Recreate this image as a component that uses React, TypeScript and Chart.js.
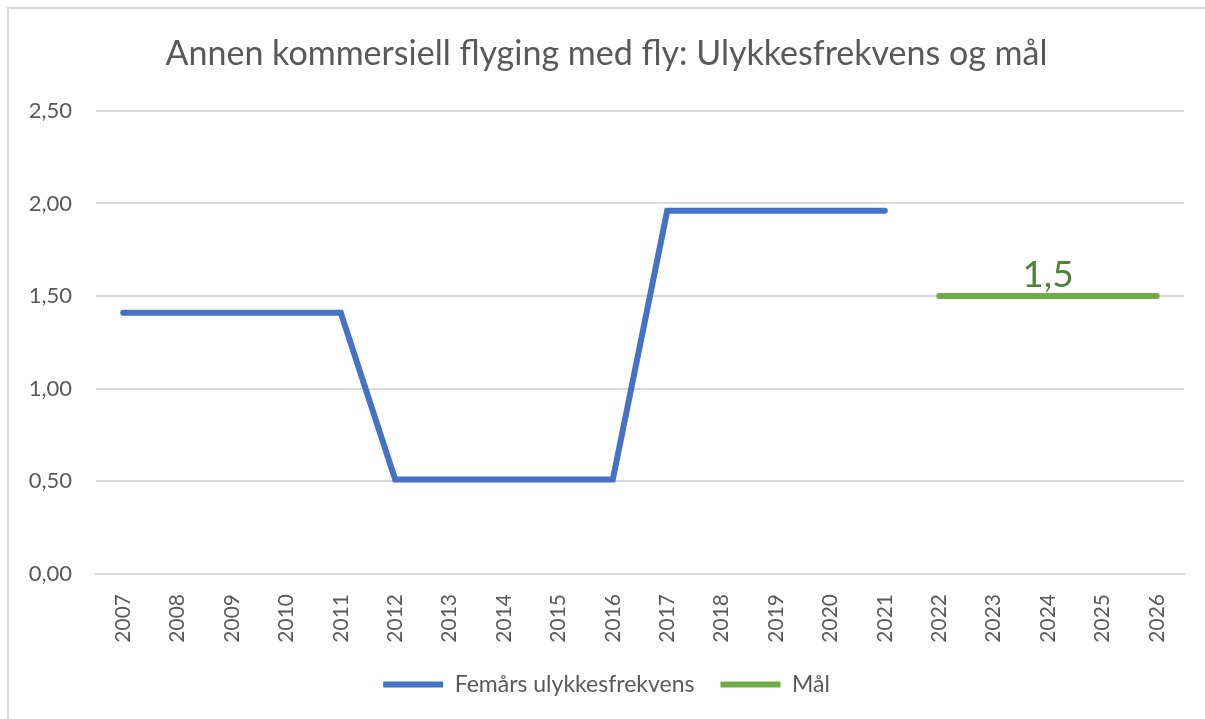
import React, { useEffect, useRef } from "react";
import { Chart, registerables } from "chart.js";

Chart.register(...registerables);

const years = ["2007","2008","2009","2010","2011","2012","2013","2014","2015","2016","2017","2018","2019","2020","2021","2022","2023","2024","2025","2026"];
const frequency = [1.41,1.41,1.41,1.41,1.41,0.51,0.51,0.51,0.51,0.51,1.96,1.96,1.96,1.96,1.96,null,null,null,null,null];
const goal = [null,null,null,null,null,null,null,null,null,null,null,null,null,null,null,1.5,1.5,1.5,1.5,1.5];
const goalLabel = "1,5";
const goalLabelYear = "2024";
const titleText = "Annen kommersiell flyging med fly: Ulykkesfrekvens og mål";

const FONT = "Lato, 'Open Sans', sans-serif";
const GRAY = "#595959";

const borderPlugin = {
  id: "borderPlugin",
  beforeDraw(chart: any) {
    const ctx = chart.ctx;
    ctx.save();
    ctx.fillStyle = "#ffffff";
    ctx.fillRect(0, 0, chart.width, chart.height);
    ctx.strokeStyle = "#d9d9d9";
    ctx.lineWidth = 2;
    ctx.strokeRect(8, 8, 1400, 900);
    ctx.restore();
  },
};

const goalLabelPlugin = {
  id: "goalLabelPlugin",
  afterDatasetsDraw(chart: any) {
    const ctx = chart.ctx;
    const x = chart.scales.x.getPixelForValue(years.indexOf(goalLabelYear));
    const y = chart.scales.y.getPixelForValue(1.5);
    ctx.save();
    ctx.fillStyle = "#538135";
    ctx.font = `37px ${FONT}`;
    ctx.textAlign = "center";
    ctx.textBaseline = "alphabetic";
    ctx.fillText(goalLabel, x, y - 9);
    ctx.restore();
  },
};

export default function App() {
  const ref = useRef<HTMLCanvasElement>(null);
  useEffect(() => {
    if (!ref.current) return;
    const chart = new Chart(ref.current, {
      type: "line",
      data: {
        labels: years,
        datasets: [
          {
            label: "Femårs ulykkesfrekvens",
            data: frequency as any,
            borderColor: "#4472C4",
            backgroundColor: "#4472C4",
            borderWidth: 6,
            borderCapStyle: "round",
            pointRadius: 0,
            pointHoverRadius: 0,
            pointStyle: "line",
            tension: 0,
            spanGaps: false,
          },
          {
            label: "Mål",
            data: goal as any,
            borderColor: "#70AD47",
            backgroundColor: "#70AD47",
            borderWidth: 6,
            borderCapStyle: "round",
            pointRadius: 0,
            pointHoverRadius: 0,
            pointStyle: "line",
            tension: 0,
          },
        ],
      },
      options: {
        responsive: false,
        animation: false,
        layout: { padding: { left: 8, right: 0, top: 8, bottom: 13 } },
        plugins: {
          title: {
            display: true,
            text: titleText,
            color: GRAY,
            font: { family: FONT, size: 34, weight: "normal" },
            padding: { top: 26, bottom: 36 },
          },
          legend: {
            position: "bottom",
            labels: {
              usePointStyle: true,
              pointStyleWidth: 60,
              boxHeight: 18,
              padding: 26,
              color: GRAY,
              font: { family: FONT, size: 23 },
            },
          },
          tooltip: { enabled: false },
        },
        scales: {
          x: {
            offset: true,
            grid: { display: false, drawTicks: false },
            border: { display: true, color: "#d9d9d9", width: 2 },
            ticks: {
              color: GRAY,
              font: { family: FONT, size: 21 },
              minRotation: 90,
              maxRotation: 90,
              padding: 20,
              autoSkip: false,
            },
            afterFit(scale: any) {
              scale.height = 73;
            },
          },
          y: {
            min: 0,
            max: 2.5,
            grid: { color: "#d9d9d9", lineWidth: 2, drawTicks: false },
            border: { display: false },
            ticks: {
              stepSize: 0.5,
              color: GRAY,
              font: { family: FONT, size: 22 },
              padding: 24,
              callback: (v: any) => Number(v).toFixed(2).replace(".", ","),
            },
            afterFit(scale: any) {
              scale.width = 88;
            },
          },
          yRight: {
            type: "linear",
            position: "right",
            display: true,
            grid: { display: false, drawTicks: false },
            border: { display: false },
            ticks: { display: false },
            afterFit(scale: any) {
              scale.width = 21;
            },
          },
        },
      },
      plugins: [borderPlugin, goalLabelPlugin],
    });
    return () => chart.destroy();
  }, []);
  return (
    <div style={{ position: "fixed", left: 0, top: 0, width: 1205, height: 719 }}>
      <canvas ref={ref} width={1205} height={719} />
    </div>
  );
}
